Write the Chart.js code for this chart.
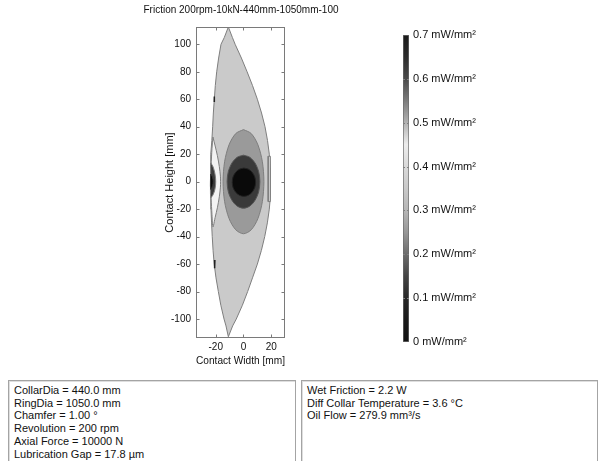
<!DOCTYPE html>
<html><head><meta charset="utf-8">
<script src="https://cdn.jsdelivr.net/npm/chart.js@4.4.1/dist/chart.umd.min.js"></script>
<style>
html,body{margin:0;padding:0;background:#fff;width:601px;height:461px;overflow:hidden;font-family:"Liberation Sans",Arial,sans-serif;}
#plot{position:absolute;left:0;top:0;}
#cbar{position:absolute;left:380px;top:0;}
.box{position:absolute;top:380px;height:100px;border:1px solid #a4a4a4;box-shadow:inset 1px 1px 0 #dedede;font-size:11px;line-height:12.7px;color:#111;box-sizing:border-box;padding:3px 0 0 5px;white-space:pre;}
#leftBox{left:8px;width:288px;}
#rightBox{left:301px;width:297px;}
</style></head><body>
<canvas id="plot" width="482" height="375"></canvas>
<canvas id="cbar" width="121" height="375"></canvas>
<div class="box" id="leftBox"></div>
<div class="box" id="rightBox"></div>
<script>
// ---------- data ----------
const chartTitle = 'Friction 200rpm-10kN-440mm-1050mm-100';
const xAxisTitle = 'Contact Width [mm]';
const yAxisTitle = 'Contact Height [mm]';
const xTickValues = [-20, 0, 20];
const yTickValues = [-100, -80, -60, -40, -20, 0, 20, 40, 60, 80, 100];
const xLimits = [-34.2, 29.9];
const yLimits = [-113.8, 112.6];

// outer contact zone boundary (~0.35 mW/mm² band)
const lensBoundary = [
  [-10.9,112.6],[-8.0,105],[-6.0,100],[-1.5,90],[2.6,80],[6.5,70],[10.0,60],[13.0,50],[15.5,40],[17.3,30],[18.6,20],[19.3,10],[19.6,0],
  [19.3,-10],[18.6,-20],[17.2,-30],[15.3,-40],[12.9,-50],[10.0,-60],[6.5,-70],[3.0,-80],[-0.8,-90],[-5.2,-100],[-7.8,-105],[-10.9,-112.9],
  [-12.6,-105],[-14.0,-100],[-16.3,-90],[-18.1,-80],[-19.8,-70],[-21.1,-60],[-21.9,-50],[-22.5,-40],[-23.0,-30],[-23.4,-20],[-23.6,-10],[-23.7,0],
  [-23.6,10],[-23.4,20],[-22.8,30],[-22.2,40],[-21.7,50],[-21.0,60],[-20.3,70],[-19.3,80],[-17.9,90],[-16.2,100],[-13.8,105],[-10.9,112.6]
];
// light band near the inner edge (~0.45)
const whiteBand = [
  [-22.0,32.5],[-20.4,26],[-18.8,19],[-17.4,11],[-16.6,4],[-16.5,0],[-16.6,-4],[-17.4,-11],[-18.8,-19],[-20.4,-26],[-22.0,-33],
  [-22.7,-24],[-23.3,-12],[-23.65,0],[-23.3,12],[-22.7,24],[-22.0,32.5]
];
// central contours
const level055 = [[0,37.9],[5.6,35.0],[10.4,26.8],[13.6,14.5],[14.7,0],[13.6,-14.5],[10.4,-26.8],[5.6,-35.0],[0,-37.9],[-5.6,-35.0],[-10.4,-26.8],[-13.6,-14.5],[-14.7,0],[-13.6,14.5],[-10.4,26.8],[-5.6,35.0],[0,37.9]];
const level062 = [[0,19.3],[4.5,17.8],[8.3,13.6],[10.9,7.4],[11.8,0],[10.9,-7.4],[8.3,-13.6],[4.5,-17.8],[0,-19.3],[-4.5,-17.8],[-8.3,-13.6],[-10.9,-7.4],[-11.8,0],[-10.9,7.4],[-8.3,13.6],[-4.5,17.8],[0,19.3]];
const level068 = [[0.3,9.9],[3.5,9.1],[6.2,6.9],[8.1,3.5],[8.7,-0.4],[8.1,-4.3],[6.2,-7.7],[3.5,-9.9],[0.3,-10.7],[-2.9,-9.9],[-5.6,-7.7],[-7.5,-4.3],[-8.1,-0.4],[-7.5,3.5],[-5.6,6.9],[-2.9,9.1],[0.3,9.9]];
// edge bump on the inner side
const edgeBump062 = [[-23.65,13.6],[-22.2,11.5],[-20.8,7],[-20.1,2.5],[-20.0,0],[-20.1,-2.5],[-20.8,-6.5],[-22.2,-10],[-23.6,-11.5],[-23.7,0],[-23.65,13.6]];
const edgeBump068 = [[-23.7,5.5],[-22.6,4],[-21.9,1.5],[-21.8,0],[-21.9,-1.5],[-22.6,-4],[-23.7,-5.5],[-23.7,5.5]];
// thin strip on the outer edge
const outerStrip = [[17.8,18.5],[17.8,-14.5],[19.3,-14.5],[19.6,0],[19.1,18.5],[17.8,18.5]];
const edgeMarkTop = [[-21.0,62],[-21.0,58]];
const edgeMarkBottom = [[-20.6,-57],[-20.8,-63]];

// colour bar
const cbRange = [0, 0.7];
const cbTickValues = [0, 0.1, 0.2, 0.3, 0.4, 0.5, 0.6, 0.7];
const cbTickLabels = ['0 mW/mm²','0.1 mW/mm²','0.2 mW/mm²','0.3 mW/mm²','0.4 mW/mm²','0.5 mW/mm²','0.6 mW/mm²','0.7 mW/mm²'];
const cmapValues = [0, 0.05, 0.1, 0.15, 0.2, 0.25, 0.3, 0.35, 0.4, 0.45, 0.5, 0.55, 0.6, 0.65, 0.7];
const cmapColors = ['#121212','#1a1a1a','#272727','#444444','#6c6c6c','#979797','#b6b6b6','#c9c9c9','#d9d9d9','#ededed','#b2b2b2','#7c7c7c','#4a4a4a','#2c2c2c','#1a1a1a'];

// info boxes
const leftBoxLines = ['CollarDia = 440.0 mm','RingDia = 1050.0 mm','Chamfer = 1.00 °','Revolution = 200 rpm','Axial Force = 10000 N','Lubrication Gap = 17.8 µm'];
const rightBoxLines = ['Wet Friction = 2.2 W','Diff Collar Temperature = 3.6 °C','Oil Flow = 279.9 mm³/s'];

// ---------- rendering ----------
const FONT = '"Liberation Sans", Arial, sans-serif';
document.getElementById('leftBox').textContent = leftBoxLines.join('\n');
document.getElementById('rightBox').textContent = rightBoxLines.join('\n');

const toXY = pts => pts.map(p => ({x: p[0], y: p[1]}));
function contour(pts, fillColor, lineColor, order, tension, width) {
  return {
    data: toXY(pts), backgroundColor: fillColor || 'transparent', borderColor: lineColor,
    borderWidth: width || 1, fill: fillColor ? 'shape' : false, pointRadius: 0,
    tension: tension || 0, order: order, yAxisID: 'y'
  };
}

const framePlugin = {
  id: 'frame',
  afterDatasetsDraw(chart) {
    const {ctx, chartArea: a, scales: {x, y}} = chart;
    ctx.save();
    ctx.strokeStyle = '#7a7a7a';
    ctx.lineWidth = 1;
    const L = Math.round(a.left) + 0.5, R = Math.round(a.right) - 0.5;
    const T = Math.round(a.top) + 0.5, B = Math.round(a.bottom) - 0.5;
    ctx.strokeRect(L, T, R - L, B - T);
    ctx.beginPath();
    xTickValues.forEach(v => {
      const px = Math.round(x.getPixelForValue(v)) + 0.5;
      ctx.moveTo(px, B); ctx.lineTo(px, B - 3);
      ctx.moveTo(px, T); ctx.lineTo(px, T + 3);
    });
    yTickValues.forEach(v => {
      const py = Math.round(y.getPixelForValue(v)) + 0.5;
      ctx.moveTo(L, py); ctx.lineTo(L + 3, py);
      ctx.moveTo(R, py); ctx.lineTo(R - 3, py);
    });
    ctx.stroke();
    ctx.restore();
  }
};

const LINE = '#7e7e7e';
new Chart(document.getElementById('plot'), {
  type: 'line',
  data: {
    datasets: [
      contour(lensBoundary, '#cacaca', LINE, 10, 0),
      contour(outerStrip, '#d6d6d6', LINE, 9, 0),
      contour(whiteBand, '#f3f3f3', LINE, 8, 0.3),
      contour(edgeBump062, '#3c3c3c', LINE, 7, 0.3),
      contour(edgeBump068, '#0a0a0a', '#333333', 6, 0.3),
      contour(level055, '#9a9a9a', LINE, 5, 0.3),
      contour(level062, '#3a3a3a', '#555555', 4, 0.3),
      contour(level068, '#0a0a0a', '#222222', 3, 0.3),
      contour(edgeMarkTop, null, '#222222', 1, 0, 1.5),
      contour(edgeMarkBottom, null, '#222222', 1, 0, 1.5)
    ]
  },
  options: {
    responsive: false, animation: false, devicePixelRatio: 1,
    layout: {padding: {left: 0, top: 0, right: 0, bottom: 7}},
    plugins: {
      legend: {display: false}, tooltip: {enabled: false},
      title: {display: true, text: chartTitle, fullSize: true, color: '#111',
        font: {family: FONT, size: 10, weight: 'normal'}, padding: {top: 4, bottom: 11}}
    },
    scales: {
      x: {
        type: 'linear', min: xLimits[0], max: xLimits[1],
        afterBuildTicks: s => { s.ticks = xTickValues.map(v => ({value: v})); },
        afterFit: s => { s.height = 30; },
        grid: {display: false, drawTicks: false}, border: {display: false},
        ticks: {padding: 3, color: '#111', autoSkip: false, maxRotation: 0, font: {family: FONT, size: 10}},
        title: {display: true, text: xAxisTitle, color: '#111', font: {family: FONT, size: 11}, padding: {top: 0, bottom: 0.4}}
      },
      y: {
        type: 'linear', position: 'left', min: yLimits[0], max: yLimits[1],
        afterBuildTicks: s => { s.ticks = yTickValues.map(v => ({value: v})); },
        afterFit: s => { s.width = 196; },
        grid: {display: false, drawTicks: false}, border: {display: false},
        ticks: {padding: 5, color: '#111', autoSkip: false, font: {family: FONT, size: 10}},
        title: {display: true, text: yAxisTitle, color: '#111', font: {family: FONT, size: 11}, padding: {top: 163.4, bottom: 0}}
      },
      yRight: {
        type: 'linear', position: 'right', min: yLimits[0], max: yLimits[1],
        afterFit: s => { s.width = 197; },
        grid: {display: false, drawTicks: false}, border: {display: false},
        ticks: {display: false}
      }
    }
  },
  plugins: [framePlugin]
});

const cbTickPlugin = {
  id: 'cbticks',
  afterDatasetsDraw(chart) {
    const {ctx, chartArea: a, scales: {y}} = chart;
    ctx.save();
    ctx.strokeStyle = '#808080';
    ctx.lineWidth = 1;
    ctx.beginPath();
    cbTickValues.slice(1, -1).forEach(v => {
      const py = Math.round(y.getPixelForValue(v)) + 0.5;
      ctx.moveTo(a.left, py); ctx.lineTo(a.left + 2, py);
      ctx.moveTo(a.right, py); ctx.lineTo(a.right - 2, py);
    });
    ctx.stroke();
    ctx.restore();
  }
};

new Chart(document.getElementById('cbar'), {
  type: 'bar',
  data: {
    labels: ['cb'],
    datasets: [{
      data: [[cbRange[0], cbRange[1]]],
      backgroundColor: c => {
        const ch = c.chart, ys = ch.scales.y;
        if (!ys || !ch.chartArea) return '#888';
        const y0 = ys.getPixelForValue(cbRange[0]), y1 = ys.getPixelForValue(cbRange[1]);
        const g = ch.ctx.createLinearGradient(0, y0, 0, y1);
        cmapValues.forEach((v, i) => g.addColorStop((v - cbRange[0]) / (cbRange[1] - cbRange[0]), cmapColors[i]));
        return g;
      },
      borderColor: '#6a6a6a', borderWidth: 1, borderSkipped: false,
      barPercentage: 1, categoryPercentage: 1
    }]
  },
  options: {
    responsive: false, animation: false, devicePixelRatio: 1,
    layout: {padding: {left: 23, right: 0, top: 35, bottom: 33}},
    plugins: {legend: {display: false}, tooltip: {enabled: false}},
    scales: {
      x: {display: false},
      y: {
        position: 'right', min: cbRange[0], max: cbRange[1],
        afterBuildTicks: s => { s.ticks = cbTickValues.map(v => ({value: v})); },
        afterFit: s => { s.width = 92; },
        grid: {display: false, drawTicks: false}, border: {display: false},
        ticks: {padding: 4, autoSkip: false, color: '#111', font: {family: FONT, size: 11},
          callback: (v, i) => cbTickLabels[i]}
      }
    }
  },
  plugins: [cbTickPlugin]
});
</script></body></html>
